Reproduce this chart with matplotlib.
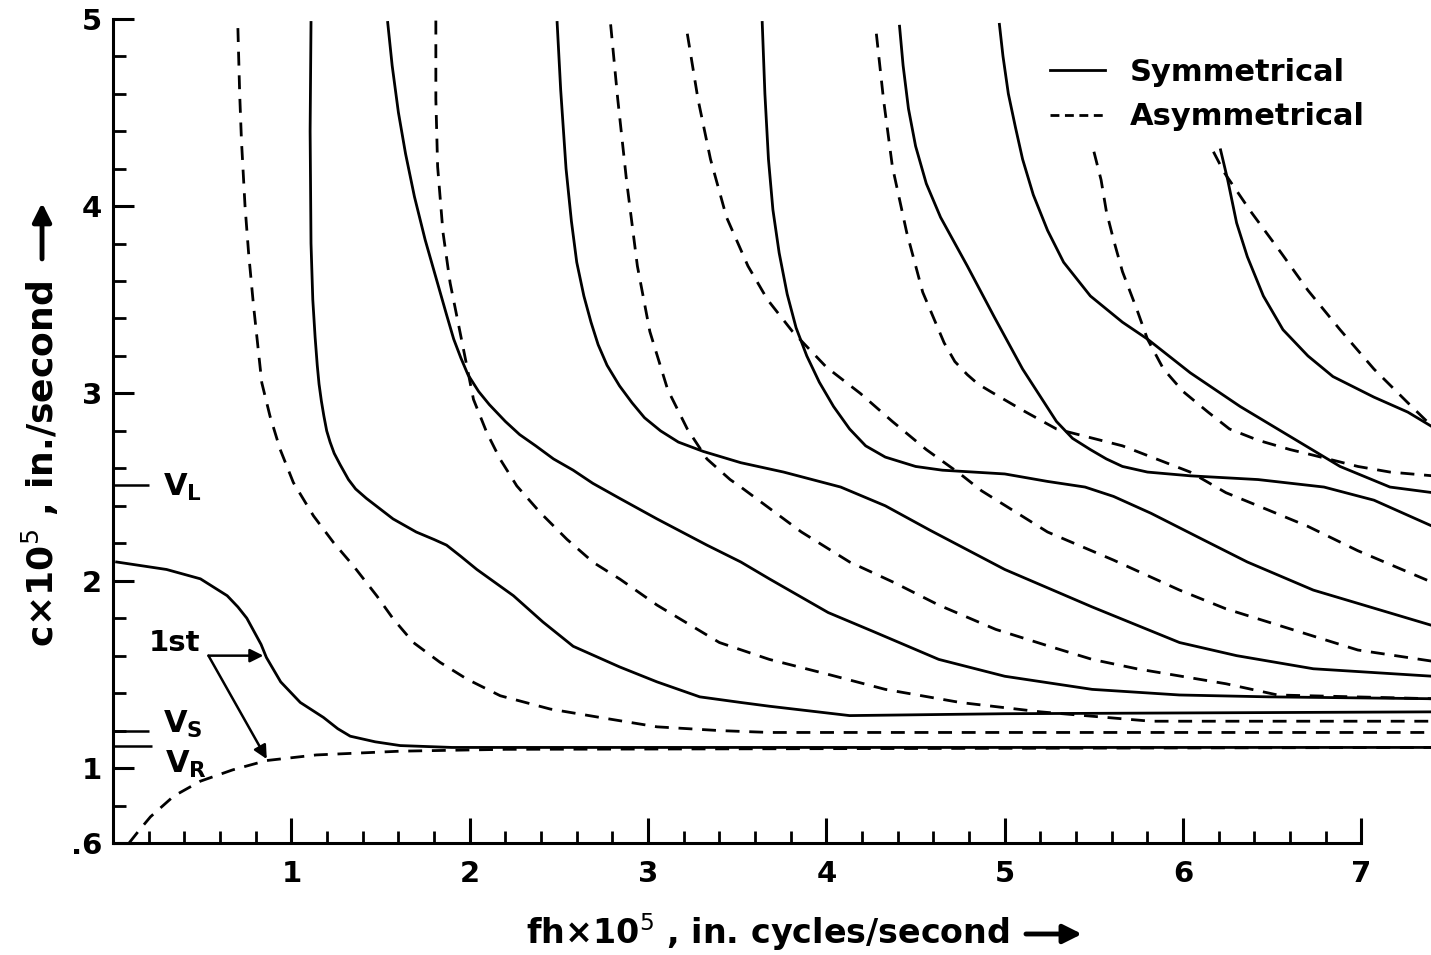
import numpy as np
import matplotlib.pyplot as plt
from matplotlib.lines import Line2D

plt.rcParams['font.family'] = ['DejaVu Sans']
plt.rcParams['mathtext.fontset'] = 'dejavusans'

# ---- symmetrical modes (solid), fh x 1e5 vs c x 1e5 ----
s0_fh = [0.02, 0.30, 0.49, 0.64, 0.70, 0.75, 0.79, 0.83, 0.86, 0.94, 1.05, 1.18, 1.26, 1.33, 1.47, 1.61, 1.90, 7.40]
s0_c = [2.10, 2.06, 2.01, 1.92, 1.86, 1.80, 1.73, 1.66, 1.59, 1.46, 1.35, 1.27, 1.21, 1.17, 1.14, 1.12, 1.11, 1.11]

s1_fh = [1.11, 1.105, 1.11, 1.12, 1.133, 1.145, 1.155, 1.168, 1.182, 1.198, 1.217, 1.24, 1.273, 1.32, 1.36, 1.42,
         1.57, 1.70, 1.80, 1.87, 1.95, 2.04, 2.245, 2.41, 2.58, 2.84, 3.05, 3.29, 3.52, 3.68, 4.13, 5.00, 7.40]
s1_c = [4.98, 4.40, 3.80, 3.50, 3.30, 3.15, 3.05, 2.96, 2.88, 2.80, 2.74, 2.68, 2.62, 2.54, 2.49, 2.44,
        2.33, 2.26, 2.22, 2.19, 2.13, 2.06, 1.92, 1.78, 1.65, 1.54, 1.46, 1.38, 1.35, 1.33, 1.28, 1.29, 1.30]

s2_fh = [1.54, 1.565, 1.60, 1.64, 1.69, 1.75, 1.81, 1.87, 1.91, 1.95, 1.99, 2.05, 2.11, 2.20, 2.28, 2.37, 2.47,
         2.58, 2.69, 2.84, 3.05, 3.33, 3.52, 3.68, 4.01, 4.26, 4.63, 5.00, 5.49, 5.98, 6.48, 7.40]
s2_c = [4.98, 4.75, 4.50, 4.28, 4.05, 3.82, 3.62, 3.42, 3.29, 3.19, 3.10, 3.01, 2.94, 2.85, 2.78, 2.72, 2.65,
        2.59, 2.52, 2.44, 2.33, 2.19, 2.10, 2.01, 1.83, 1.73, 1.58, 1.49, 1.42, 1.39, 1.38, 1.37]

s3_fh = [2.49, 2.51, 2.54, 2.57, 2.60, 2.64, 2.68, 2.72, 2.77, 2.84, 2.91, 2.98, 3.07, 3.17, 3.31, 3.52, 3.76,
         4.08, 4.33, 4.58, 5.00, 5.49, 5.98, 6.30, 6.73, 7.40]
s3_c = [4.98, 4.62, 4.20, 3.92, 3.70, 3.52, 3.38, 3.26, 3.15, 3.04, 2.95, 2.87, 2.80, 2.74, 2.69, 2.63, 2.58,
        2.50, 2.40, 2.27, 2.06, 1.86, 1.67, 1.60, 1.53, 1.49]

s4_fh = [3.64, 3.655, 3.675, 3.70, 3.735, 3.78, 3.83, 3.89, 3.96, 4.04, 4.13, 4.22, 4.33, 4.50, 4.65, 5.00, 5.24,
         5.45, 5.61, 5.82, 6.11, 6.36, 6.73, 7.40]
s4_c = [4.98, 4.60, 4.25, 3.98, 3.75, 3.53, 3.35, 3.20, 3.06, 2.93, 2.81, 2.72, 2.66, 2.61, 2.59, 2.57, 2.53,
        2.50, 2.45, 2.36, 2.22, 2.10, 1.95, 1.76]

s5_fh = [4.41, 4.43, 4.46, 4.50, 4.56, 4.64, 4.79, 4.94, 5.10, 5.29, 5.38, 5.48, 5.57, 5.66, 5.80, 6.04, 6.42,
         6.79, 7.07, 7.40]
s5_c = [4.96, 4.75, 4.52, 4.32, 4.12, 3.94, 3.68, 3.41, 3.13, 2.85, 2.76, 2.70, 2.65, 2.61, 2.58, 2.56, 2.54,
        2.50, 2.43, 2.29]

s6_fh = [4.97, 4.99, 5.02, 5.06, 5.10, 5.16, 5.24, 5.33, 5.48, 5.66, 5.80, 6.04, 6.32, 6.60, 6.88, 7.16, 7.40]
s6_c = [4.97, 4.80, 4.60, 4.42, 4.25, 4.06, 3.87, 3.70, 3.52, 3.38, 3.29, 3.11, 2.93, 2.77, 2.61, 2.50, 2.47]

s7_fh = [6.21, 6.25, 6.30, 6.36, 6.45, 6.56, 6.70, 6.84, 7.07, 7.26, 7.40]
s7_c = [4.30, 4.14, 3.91, 3.73, 3.52, 3.34, 3.20, 3.09, 2.98, 2.90, 2.82]

# ---- asymmetrical modes (dashed) ----
a0_fh = [0.09, 0.14, 0.21, 0.34, 0.49, 0.67, 0.86, 1.14, 1.61, 2.20, 7.40]
a0_c = [0.60, 0.66, 0.74, 0.85, 0.93, 0.99, 1.04, 1.07, 1.09, 1.10, 1.11]

a1_fh = [0.70, 0.71, 0.72, 0.74, 0.76, 0.787, 0.834, 0.88, 0.937, 1.011, 1.124, 1.236, 1.348, 1.479, 1.572,
         1.684, 1.834, 1.984, 2.171, 2.451, 2.731, 3.05, 3.40, 3.68, 7.40]
a1_c = [4.95, 4.60, 4.35, 4.00, 3.75, 3.475, 3.057, 2.879, 2.701, 2.524, 2.346, 2.204, 2.079, 1.919, 1.795,
        1.670, 1.564, 1.475, 1.386, 1.315, 1.270, 1.22, 1.20, 1.19, 1.19]

a2_fh = [1.81, 1.81, 1.82, 1.85, 1.89, 1.965, 2.021, 2.096, 2.171, 2.264, 2.395, 2.545, 2.694, 2.843, 3.05,
         3.40, 3.68, 4.01, 4.33, 4.75, 5.20, 5.82, 7.40]
a2_c = [4.99, 4.57, 4.21, 3.86, 3.59, 3.235, 2.968, 2.790, 2.648, 2.506, 2.364, 2.221, 2.097, 2.008, 1.87,
        1.67, 1.58, 1.50, 1.42, 1.35, 1.30, 1.25, 1.25]

a3_fh = [2.79, 2.83, 2.88, 2.94, 3.01, 3.11, 3.22, 3.33, 3.46, 3.52, 3.86, 4.13, 4.38, 4.63, 4.95, 5.25, 5.49,
         5.74, 5.99, 6.24, 6.53, 7.40]
a3_c = [4.97, 4.57, 4.13, 3.68, 3.33, 3.02, 2.81, 2.65, 2.54, 2.50, 2.26, 2.10, 1.99, 1.87, 1.74, 1.65, 1.58,
        1.53, 1.49, 1.45, 1.39, 1.37]

a4_fh = [3.22, 3.28, 3.35, 3.44, 3.56, 3.67, 3.81, 4.00, 4.19, 4.37, 4.56, 4.75, 4.87, 5.24, 5.61, 5.98, 6.24,
         6.61, 6.98, 7.40]
a4_c = [4.92, 4.57, 4.25, 3.94, 3.68, 3.50, 3.33, 3.14, 3.00, 2.85, 2.70, 2.57, 2.48, 2.26, 2.11, 1.95, 1.85,
        1.74, 1.63, 1.57]

a5_fh = [4.28, 4.32, 4.37, 4.45, 4.54, 4.66, 4.72, 4.79, 4.85, 4.92, 5.10, 5.29, 5.66, 6.04, 6.24, 6.42, 6.70,
         6.98, 7.40]
a5_c = [4.92, 4.57, 4.21, 3.86, 3.54, 3.27, 3.17, 3.10, 3.05, 3.01, 2.91, 2.81, 2.72, 2.58, 2.47, 2.40, 2.29,
        2.16, 1.99]

a6_fh = [5.50, 5.54, 5.57, 5.61, 5.66, 5.74, 5.80, 5.89, 6.00, 6.14, 6.26, 6.42, 6.60, 6.73, 6.98, 7.16, 7.40]
a6_c = [4.29, 4.14, 3.97, 3.82, 3.65, 3.45, 3.29, 3.13, 3.01, 2.90, 2.81, 2.75, 2.70, 2.67, 2.61, 2.58, 2.56]

a7_fh = [6.17, 6.23, 6.38, 6.55, 6.70, 6.88, 7.07, 7.26, 7.40]
a7_c = [4.29, 4.18, 3.97, 3.75, 3.55, 3.34, 3.13, 2.95, 2.82]

sym = [(s0_fh, s0_c), (s1_fh, s1_c), (s2_fh, s2_c), (s3_fh, s3_c),
       (s4_fh, s4_c), (s5_fh, s5_c), (s6_fh, s6_c), (s7_fh, s7_c)]
asym = [(a0_fh, a0_c), (a1_fh, a1_c), (a2_fh, a2_c), (a3_fh, a3_c),
        (a4_fh, a4_c), (a5_fh, a5_c), (a6_fh, a6_c), (a7_fh, a7_c)]

# reference velocities
v_long = 2.51
v_shear = 1.20
v_rayl = 1.12

DASH = (0, (5, 3.5))
LW = 2.0

fig = plt.figure(figsize=(14.31, 9.55), dpi=100)
ax = fig.add_axes([0.079, 0.1173, 0.921, 0.8827])

for fh, c in sym:
    ax.plot(fh, c, color='k', lw=LW, solid_joinstyle='round')
for fh, c in asym:
    ax.plot(fh, c, color='k', lw=LW, ls=DASH)

ax.set_xlim(0, 7.39)
ax.set_ylim(0.6, 5.1)

for s in ['top', 'right']:
    ax.spines[s].set_visible(False)
ax.spines['left'].set_bounds(0.6, 5)
ax.spines['bottom'].set_bounds(0, 7)
ax.spines['left'].set_linewidth(2.2)
ax.spines['bottom'].set_linewidth(2.2)

ax.set_xticks(range(1, 8))
ax.set_xticks([v for v in np.arange(0.2, 7.0, 0.2) if abs(v - round(v)) > 0.05], minor=True)
ax.set_yticks([0.6, 1, 2, 3, 4, 5])
ax.set_yticklabels(['.6', '1', '2', '3', '4', '5'])
ax.set_yticks([v for v in np.arange(0.8, 5.0, 0.2) if abs(v - round(v)) > 0.05], minor=True)

ax.tick_params(axis='x', which='major', direction='in', length=18, width=2.2, pad=12, labelsize=21)
ax.tick_params(axis='x', which='minor', direction='in', length=9, width=2.0)
ax.tick_params(axis='y', which='major', direction='in', length=15, width=2.2, pad=8, labelsize=21)
ax.tick_params(axis='y', which='minor', direction='in', length=9, width=2.0)
for lab in ax.get_xticklabels() + ax.get_yticklabels():
    lab.set_fontweight('bold')

# velocity markers on the c axis
ax.hlines([v_long, v_shear], 0, 0.20, color='k', lw=1.8)
ax.hlines([v_rayl], 0, 0.22, color='k', lw=1.8)
ax.text(0.28, v_long - 0.01, r'$\mathbf{V}_{\mathbf{L}}$', fontsize=22, ha='left', va='center')
ax.text(0.28, v_shear + 0.035, r'$\mathbf{V}_{\mathbf{S}}$', fontsize=22, ha='left', va='center')
ax.text(0.29, v_rayl - 0.10, r'$\mathbf{V}_{\mathbf{R}}$', fontsize=22, ha='left', va='center')

# "1st" label with arrows to the first modes
ax.text(0.342, 1.667, '1st', fontsize=21, fontweight='bold', ha='center', va='center')
arr = dict(arrowstyle='-|>', color='k', lw=1.8, mutation_scale=20, shrinkA=0, shrinkB=0)
ax.annotate('', xy=(0.843, 1.60), xytext=(0.535, 1.60), arrowprops=arr)
ax.annotate('', xy=(0.862, 1.048), xytext=(0.535, 1.60), arrowprops=arr)

# legend
handles = [Line2D([], [], color='k', lw=2.0),
           Line2D([], [], color='k', lw=2.0, ls=(0, (3.2, 2)))]
ax.legend(handles, ['Symmetrical', 'Asymmetrical'], loc='upper left',
          bbox_to_anchor=(0.711, 0.931), frameon=False, borderpad=0, borderaxespad=0,
          handlelength=1.8, handletextpad=0.8, labelspacing=0.5,
          prop={'weight': 'bold', 'size': 22})

# axis labels with trailing arrows
ax.set_xlabel('fh×10$^5$ , in. cycles/second', fontsize=24, fontweight='bold')
ax.xaxis.label.set_va('center')
ax.xaxis.set_label_coords(0.497, -0.1056)
ax.set_ylabel('c×10$^5$ , in./second', fontsize=26, fontweight='bold')
ax.yaxis.label.set_va('center')
ax.yaxis.set_label_coords(-0.0554, 0.4496)

fig.canvas.draw()
rend = fig.canvas.get_renderer()
bx = ax.xaxis.label.get_window_extent(rend)
by = ax.yaxis.label.get_window_extent(rend)
ya = (bx.y0 + bx.y1) / 2 - 2
xa = (by.x0 + by.x1) / 2 + 2
big = dict(arrowstyle='-|>', color='k', lw=3.5, mutation_scale=28, shrinkA=0, shrinkB=0)
ax.annotate('', xy=(bx.x1 + 72, ya), xytext=(bx.x1 + 16, ya),
            xycoords='figure pixels', textcoords='figure pixels', arrowprops=big, annotation_clip=False)
ax.annotate('', xy=(xa, by.y1 + 78), xytext=(xa, by.y1 + 22),
            xycoords='figure pixels', textcoords='figure pixels', arrowprops=big, annotation_clip=False)

fig.savefig('out.png', dpi=100)
